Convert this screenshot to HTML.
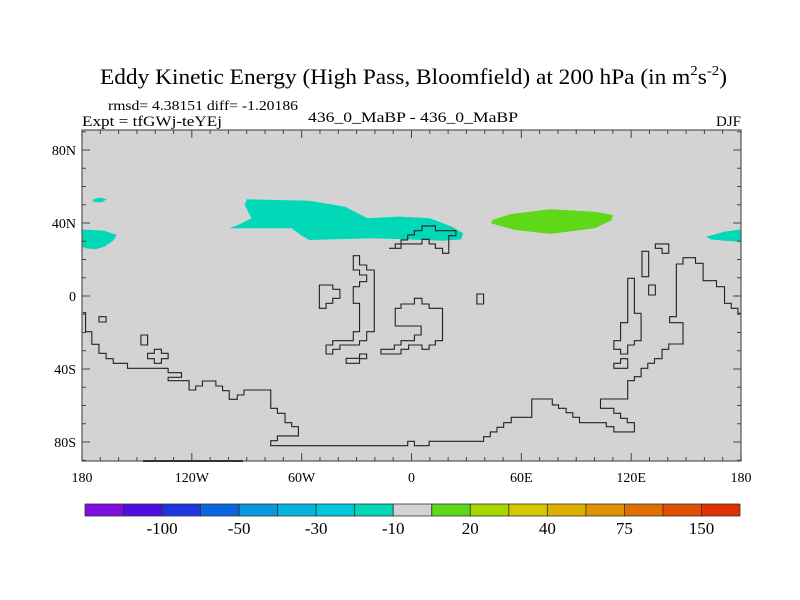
<!DOCTYPE html>
<html><head><meta charset="utf-8"><style>
body{margin:0;background:#fff}
svg{display:block;font-family:"Liberation Serif",serif}
</style></head><body>
<svg id="chart" width="800" height="600">
<text x="100" y="84" font-size="22" textLength="627" lengthAdjust="spacingAndGlyphs">Eddy Kinetic Energy (High Pass, Bloomfield) at 200 hPa (in m<tspan font-size="14" dy="-9">2</tspan><tspan dy="9">s</tspan><tspan font-size="14" dy="-9">-2</tspan><tspan dy="9">)</tspan></text>
<text x="108" y="110" font-size="14" textLength="190" lengthAdjust="spacingAndGlyphs">rmsd= 4.38151 diff= -1.20186</text>
<text x="82" y="126" font-size="15" textLength="140" lengthAdjust="spacingAndGlyphs">Expt = tfGWj-teYEj</text>
<text x="308" y="122" font-size="15" textLength="210" lengthAdjust="spacingAndGlyphs">436_0_MaBP - 436_0_MaBP</text>
<text x="741" y="126" font-size="15" text-anchor="end">DJF</text>
<rect x="82" y="130" width="659" height="331" fill="#d3d3d3"/>
<g id="fills"></g>
<g id="coast" fill="none" stroke="#222" stroke-width="1.1">
<g transform="translate(82,280) scale(0.4462,0.3333) translate(-50,0)">
<path vector-effect="non-scaling-stroke" d="M52,98 L58,98 58,155 72,155 72,193 88,193 88,220 104,220 104,236 120,236 120,250 152,250 152,265 243,265 243,278 273,278 273,292 243,292 243,302 290,302 290,330 305,330 305,318 320,318 320,303 350,303 350,318 365,318 365,332 380,332 380,358 398,358 398,345 413,345 413,330 473,330 473,385 488,385 488,400 505,400 505,428 520,428 520,440 535,440 535,468 488,468 488,482 473,482 473,497 780,497 780,484 795,484 795,497 828,497 828,484 950,484 950,470 965,470 965,456 980,456 980,442 995,442 995,428 1012,428 1012,412 1058,412 1058,357 1104,357 1104,375 1118,375 1118,385 1135,385 1135,398 1150,398 1150,412 1165,412 1165,428 1225,428 1225,440 1242,440 1242,456 1288,456 1288,428 1272,428 1272,415 1257,415 1257,400 1242,400 1242,385 1212,385 1212,357 1273,357 1273,302 1288,302 1288,290 1303,290 1303,265 1318,265 1318,250 1333,250 1333,236 1350,236 1350,208 1365,208 1365,192 1397,192 1397,128 1367,128 1367,110 1382,110 1382,-48 1397,-48 1397,-67 1425,-67 1425,-50 1442,-50 1442,2 1472,2 1472,20 1490,20 1490,70 1505,70 1505,85 1520,85 1520,100 1527,100"/>
<path vector-effect="non-scaling-stroke" d="M1273,-5 L1273,128 1257,128 1257,182 1242,182 1242,208 1257,208 1257,222 1273,222 1273,195 1288,195 1288,182 1303,182 1303,100 1288,100 1288,-5Z"/>
<path vector-effect="non-scaling-stroke" d="M1242,250 L1257,250 1257,236 1273,236 1273,265 1242,265Z"/>
<path vector-effect="non-scaling-stroke" d="M1320,15 h15 v30 h-15Z M1305,-86 h15 v76 h-15Z M935,42 h15 v30 h-15Z M182,165 h15 v30 h-15Z M88,110 h16 v16 h-16Z"/>
<path vector-effect="non-scaling-stroke" d="M752,85 L765,85 765,72 795,72 795,55 812,55 812,72 828,72 828,85 858,85 858,182 842,182 842,195 828,195 828,208 812,208 812,195 782,195 782,208 765,208 765,222 720,222 720,208 750,208 750,195 765,195 765,182 795,182 795,165 810,165 810,138 752,138Z"/>
<path vector-effect="non-scaling-stroke" d="M582,15 L612,15 612,28 628,28 628,55 612,55 612,70 597,70 597,85 582,85Z"/>
<path vector-effect="non-scaling-stroke" d="M658,-73 L672,-73 672,-45 688,-45 688,-30 705,-30 705,155 688,155 688,182 672,182 672,195 628,195 628,208 612,208 612,222 597,222 597,195 612,195 612,182 658,182 658,155 672,155 672,70 658,70 658,20 672,20 672,5 688,5 688,-15 672,-15 672,-30 658,-30Z"/>
<path vector-effect="non-scaling-stroke" d="M642,235 L672,235 672,222 688,222 688,236 672,236 672,250 642,250Z"/>
<path vector-effect="non-scaling-stroke" d="M212,208 L228,208 228,220 243,220 243,236 228,236 228,250 212,250 212,236 197,236 197,220 212,220Z"/>
</g>
<g transform="translate(82,90) scale(0.4462,0.3333) translate(-50,0)">
<path vector-effect="non-scaling-stroke" d="M738,475 L765,475 765,450 780,450 780,435 795,435 795,422 812,422 812,408 842,408 842,422 888,422 888,437 872,437 872,490 858,490 858,475 842,475 842,462 828,462 828,448 812,448 812,462 752,462 752,475"/>
<path vector-effect="non-scaling-stroke" d="M1335,462 L1365,462 1365,490 1350,490 1350,475 1335,475Z"/>
</g>
</g>
<line x1="143" y1="461" x2="243" y2="461" stroke="#000" stroke-width="2"/>
<rect x="82" y="130" width="659" height="331" fill="none" stroke="#555" stroke-width="1.2"/>
<g id="ticks" stroke="#444" stroke-width="1"></g>
<g id="labels" font-size="14"></g>
<g id="colorbar"></g>
<script>
const latLabels=["80N","40N","0","40S","80S"];
const latTicks=[80,40,0,-40,-80];
const lonTicks=[-180,-120,-60,0,60,120,180];
const lonLabels=["180","120W","60W","0","60E","120E","180"];
const levels=["-100","-50","-30","-10","20","40","75","150"];
const colors=["#7e0ee0","#4e0ee0","#1e36e0","#0a66e0","#0a96e0","#06b4e0","#00c8dc","#00d8b8","#d3d3d3","#5ed818","#a6d800","#d8c800","#e0b000","#e09000","#e07000","#e05000","#e03000"];
const blobTeal1=[[-89.9,53.0],[-55.8,52.2],[-36.3,48.9],[-24.1,42.6],[-7,43.5],[10,42.6],[22.2,38.0],[28.3,34.3],[27.1,31.0],[17.3,30.3],[-2.2,31.0],[-21.7,31.6],[-55.8,30.7],[-60.6,33.4],[-65.5,37.1],[-99.6,37.1],[-94.7,38.9],[-87.4,42.6],[-91.1,49.9]];
const blobGreen=[[44.1,41.6],[53.9,44.9],[75.8,47.5],[100.1,46.2],[109.9,44.4],[109.4,41.6],[100.1,37.1],[75.8,34.0],[56.3,36.2],[43.6,39.8]];
const blobTeal2=[[-180,36.5],[-167.8,35.8],[-161,33.4],[-163,30.3],[-167.8,27.0],[-172.7,25.6],[-177.6,26.1],[-180,27.0]];
const blobTeal3=[[-174.6,52.6],[-170.7,53.9],[-166.6,53.0],[-169,51.3],[-173.2,51.5]];
const blobTeal4=[[161,32.5],[170.8,35.2],[180,36.5],[180,29.8],[170.8,30.3],[163.5,31.0]];
const X=lon=>82+(lon+180)/360*659;
const Y=lat=>296-lat*1.825;
const NS="http://www.w3.org/2000/svg";
function mk(tag,attrs,parent){const e=document.createElementNS(NS,tag);for(const k in attrs)e.setAttribute(k,attrs[k]);parent.appendChild(e);return e;}
const fills=document.getElementById('fills');
[[blobTeal1,"#00d8b8"],[blobGreen,"#5ed818"],[blobTeal2,"#00d8b8"],[blobTeal3,"#00d8b8"],[blobTeal4,"#00d8b8"]].forEach(([b,c],i)=>{
 const p=mk('path',{d:'M'+b.map(q=>X(q[0]).toFixed(1)+','+Y(q[1]).toFixed(1)).join(' L')+'Z',fill:c},fills);
 
 
});
const tk=document.getElementById('ticks');
for(let lon=-180;lon<=180;lon+=10){const major=lon%60===0;const L=major?8:4;
 mk('line',{x1:X(lon),x2:X(lon),y1:130,y2:130+L},tk);mk('line',{x1:X(lon),x2:X(lon),y1:461,y2:461-L},tk);}
for(let lat=-90;lat<=90;lat+=10){const major=lat%40===0;const L=major?8:4;
 mk('line',{x1:82,x2:82+L,y1:Y(lat),y2:Y(lat)},tk);mk('line',{x1:741,x2:741-L,y1:Y(lat),y2:Y(lat)},tk);}
const lb=document.getElementById('labels');
latTicks.forEach((v,i)=>{const t=mk('text',{x:76,y:Y(v)+5,'text-anchor':'end'},lb);t.textContent=latLabels[i];
 
 });
lonTicks.forEach((v,i)=>{const t=mk('text',{x:X(v),y:482,'text-anchor':'middle'},lb);t.textContent=lonLabels[i];
 
 });
const cb=document.getElementById('colorbar');
const bw=(740-85)/colors.length;
colors.forEach((c,i)=>{const r=mk('rect',{x:85+i*bw,y:504,width:bw,height:12,fill:c,stroke:'#333','stroke-width':0.8},cb);
 
 });
levels.forEach((s,i)=>{const t=mk('text',{x:85+(2*i+2)*bw,y:534,'text-anchor':'middle','font-size':17},cb);t.textContent=s;
 
 });
</script>
</svg>
</body></html>
